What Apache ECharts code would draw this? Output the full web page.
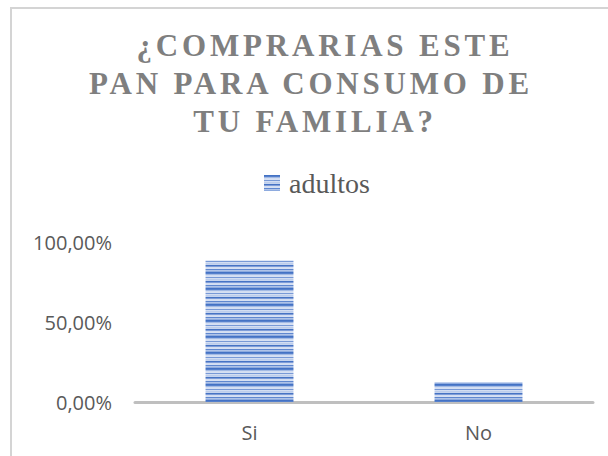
<!DOCTYPE html>
<html>
<head>
<meta charset="utf-8">
<script src="https://cdn.jsdelivr.net/npm/echarts@6/dist/echarts.min.js"></script>
<style>
  html, body { margin: 0; padding: 0; background: #ffffff; }
  #chart { width: 608px; height: 456px; }
  #chart svg text[style*="bold"] { letter-spacing: 3.8px; }
</style>
</head>
<body>
<div id="chart"></div>
<script>
// ---- data ----
var titleLines = ['¿COMPRARIAS ESTE', 'PAN PARA CONSUMO DE', 'TU FAMILIA?'];
var seriesName = 'adultos';
var categories = ['Si', 'No'];
var adultos = [0.886, 0.124];
var yTickValues = [0, 0.5, 1];
var yTickLabels = ['0,00%', '50,00%', '100,00%'];

// ---- striped texture like the original fill ----
function makeStripeTile() {
  var c = document.createElement('canvas');
  c.width = 8; c.height = 16;
  var g = c.getContext('2d');
  var rows = [
    '#4472c4', '#5580cc', '#a3bae4', '#d2ddf2', '#d6e0f3', '#7899d6',
    '#d2ddf2', '#bccdec', '#c6d4ee', '#4673c4', '#7f9dd8', '#d2ddf2',
    '#d6e0f3', '#5f87cf', '#afc3e8', '#8eabdf'
  ];
  for (var i = 0; i < rows.length; i++) {
    g.fillStyle = rows[i];
    g.fillRect(0, i, 8, 1);
  }
  return c;
}
var stripe = { image: makeStripeTile(), repeat: 'repeat', imageWidth: 8, imageHeight: 16 };

var titleFont = {
  fontFamily: 'Liberation Serif',
  fontWeight: 'bold',
  fontSize: 31,
  color: '#7f7f7f',
  lineHeight: 38
};
var titleX = [325, 311, 315];
var titleTop = [26, 64, 102];
var titles = titleLines.map(function (t, i) {
  return {
    text: t,
    left: titleX[i],
    top: titleTop[i],
    textAlign: 'center',
    padding: 0,
    textStyle: titleFont
  };
});

var chart = echarts.init(document.getElementById('chart'), null, { renderer: 'svg' });
chart.setOption({
  animation: false,
  title: titles,
  graphic: [
    {
      type: 'line',
      shape: { x1: 10, y1: 8, x2: 608, y2: 8 },
      style: { stroke: '#d4d4d4', lineWidth: 2 },
      silent: true
    },
    {
      type: 'line',
      shape: { x1: 11, y1: 7, x2: 11, y2: 456 },
      style: { stroke: '#d4d4d4', lineWidth: 2 },
      silent: true
    }
  ],
  legend: {
    data: [seriesName],
    left: 264,
    top: 169,
    padding: 0,
    icon: 'rect',
    itemWidth: 16,
    itemHeight: 16,
    textStyle: {
      fontFamily: 'Liberation Serif',
      fontSize: 28,
      color: '#595959',
      padding: [0, 0, 0, 4]
    }
  },
  grid: { left: 135, right: 15, top: 242, bottom: 54, containLabel: false },
  xAxis: {
    type: 'category',
    data: categories,
    axisLine: { lineStyle: { color: '#bfbfbf', width: 3 } },
    axisTick: { show: false },
    axisLabel: {
      color: '#595959',
      fontFamily: 'Open Sans',
      fontSize: 20,
      margin: 20
    }
  },
  yAxis: {
    type: 'value',
    min: 0,
    max: 1,
    interval: 0.5,
    splitLine: { show: false },
    axisLine: { show: false },
    axisTick: { show: false },
    axisLabel: {
      color: '#595959',
      fontFamily: 'Open Sans',
      fontSize: 20,
      margin: 23,
      formatter: function (v) {
        var idx = yTickValues.indexOf(v);
        return idx >= 0 ? yTickLabels[idx] : '';
      }
    }
  },
  series: [{
    name: seriesName,
    type: 'bar',
    data: adultos,
    barWidth: '38.4%',
    itemStyle: { color: stripe }
  }]
});
</script>
</body>
</html>
